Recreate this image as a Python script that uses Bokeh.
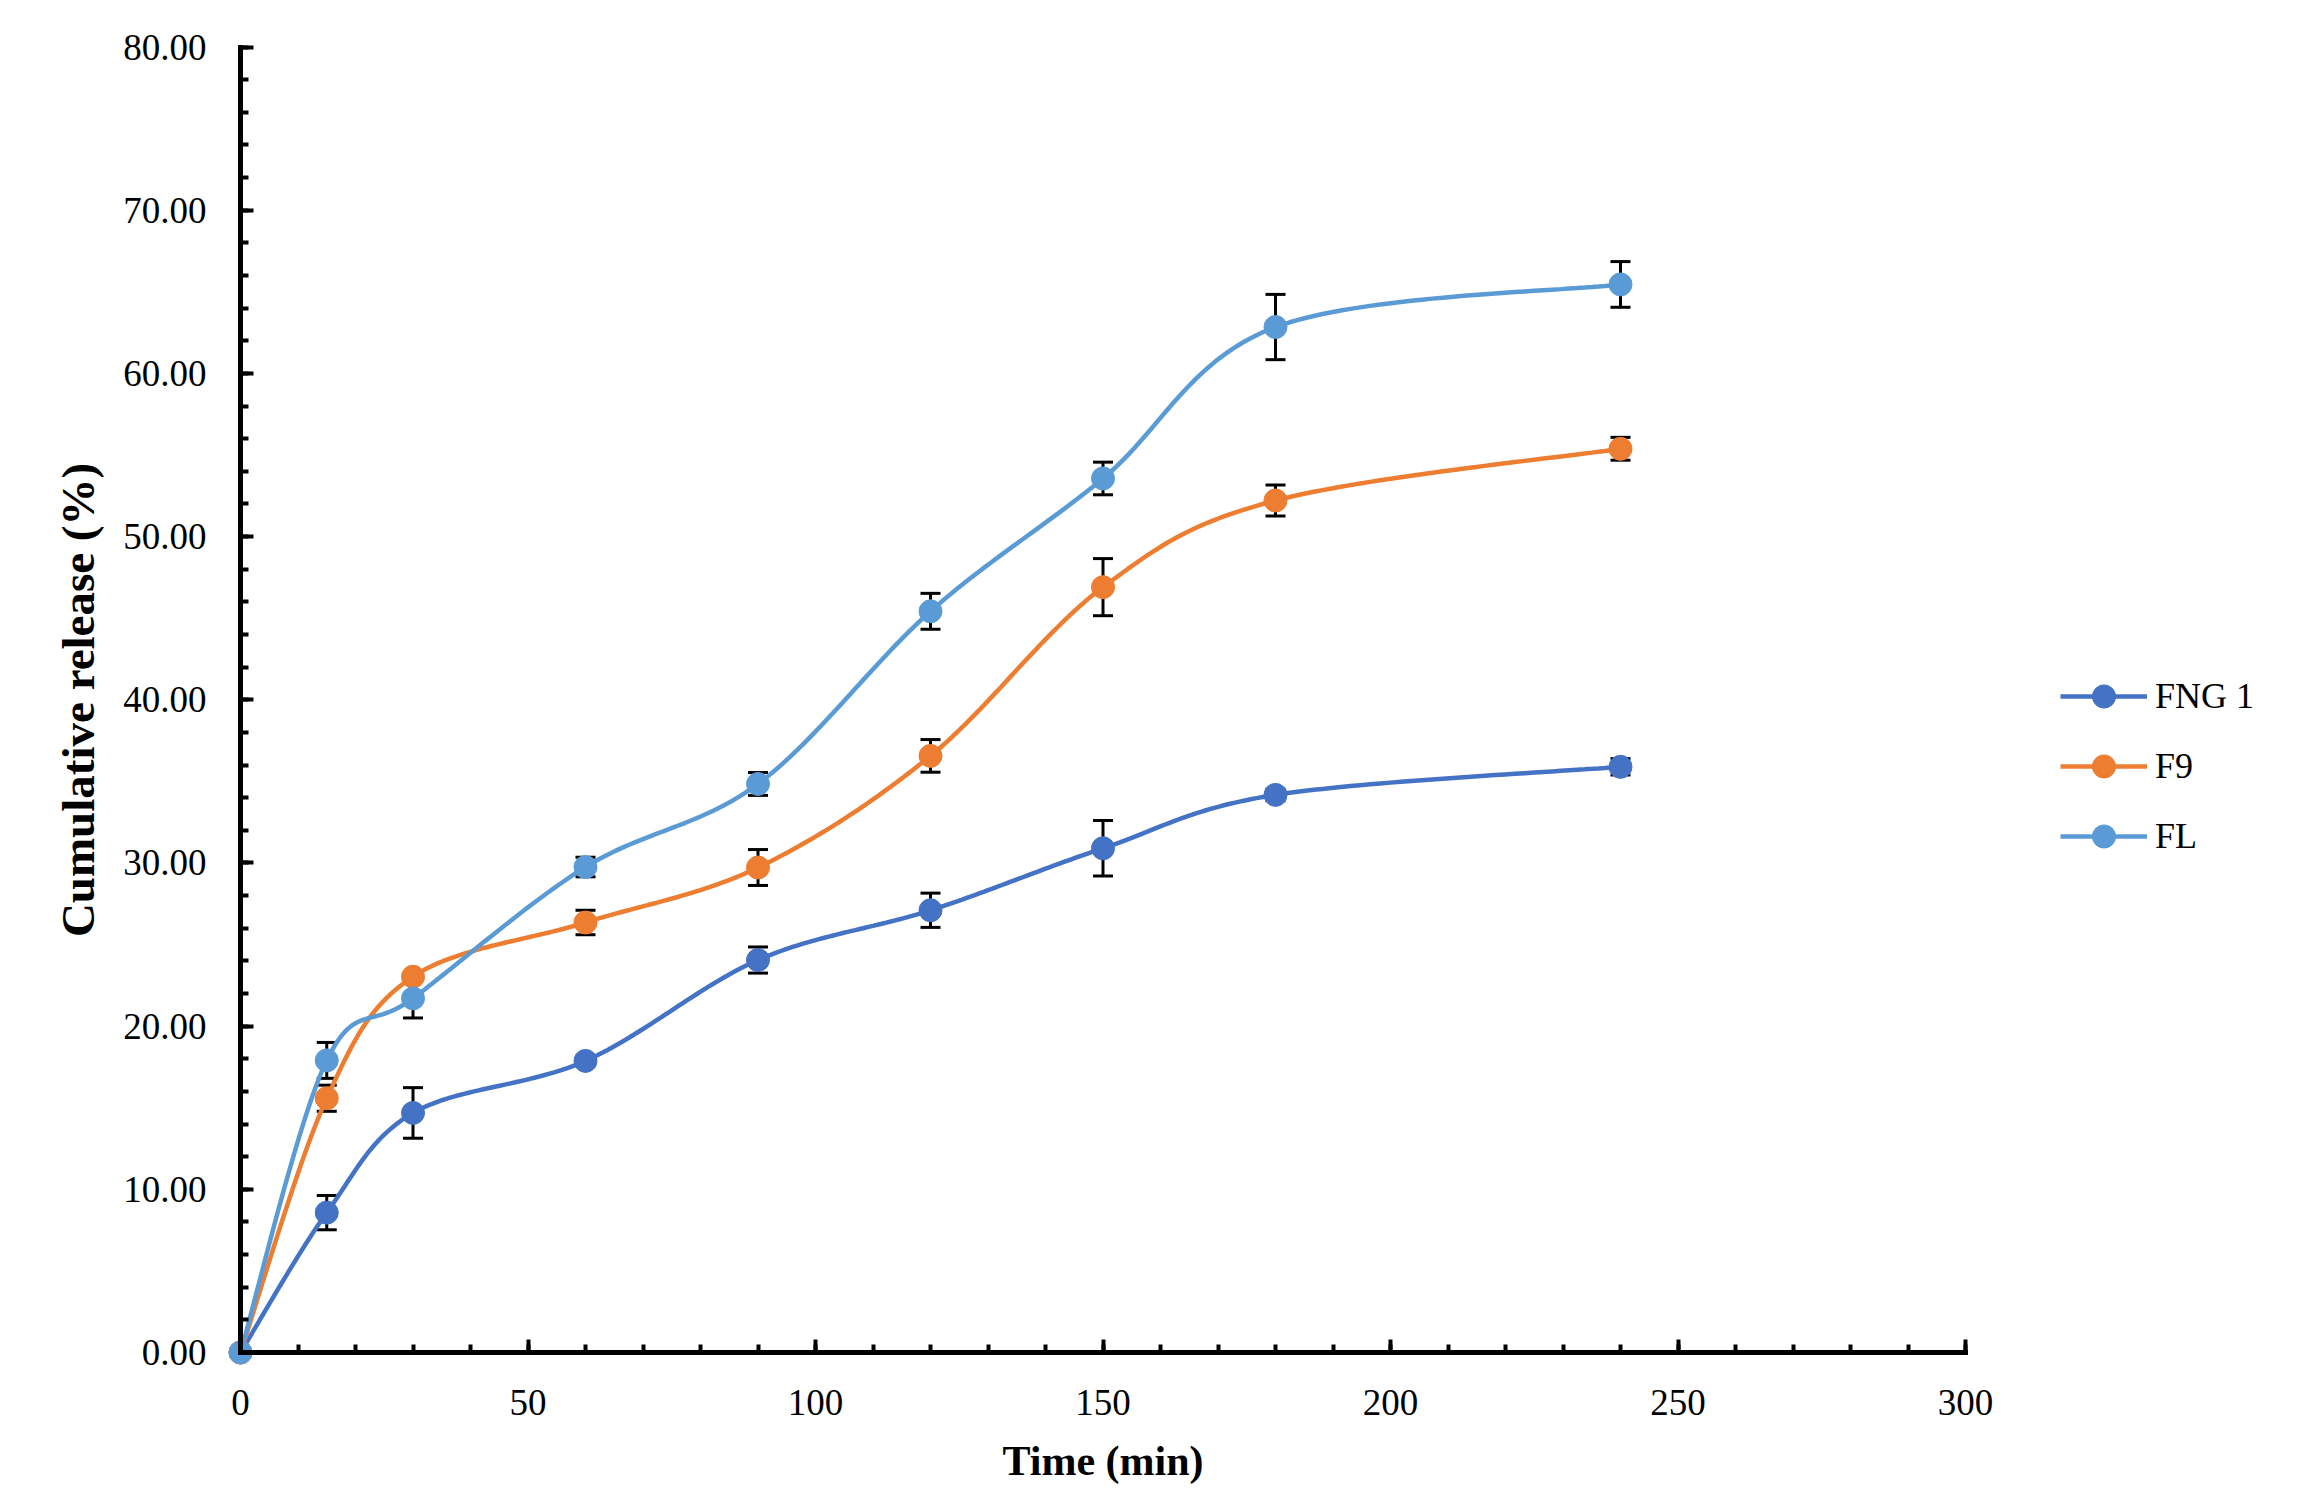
import numpy as np
from bokeh.plotting import figure
from bokeh.models import (Range1d, Whisker, TeeHead, ColumnDataSource, Legend, LegendItem,
                          PrintfTickFormatter, SingleIntervalTicker)
from bokeh.embed import file_html
from bokeh.resources import INLINE

# Release profile data (time in minutes, cumulative release in %)
time_min = [0, 15, 30, 60, 90, 120, 150, 180, 240]

fng1 = [0, 8.57, 14.68, 17.87, 24.05, 27.10, 30.90, 34.17, 35.89]
fng1_sd = [0, 1.05, 1.55, 0.30, 0.80, 1.05, 1.70, 0.35, 0.50]

f9 = [0, 15.58, 23.03, 26.35, 29.72, 36.56, 46.90, 52.21, 55.38]
f9_sd = [0, 0.80, 0.30, 0.75, 1.10, 1.00, 1.75, 0.95, 0.70]

fl = [0, 17.90, 21.70, 29.75, 34.84, 45.42, 53.56, 62.84, 65.45]
fl_sd = [0, 1.10, 1.20, 0.60, 0.70, 1.10, 1.00, 2.00, 1.40]

series_names = ["FNG 1", "F9", "FL"]
series_colors = ["#4472C4", "#ED7D31", "#5B9BD5"]

# Canvas geometry
W, H = 2306, 1498
X0_PX, X300_PX = 240, 1965      # where x = 0 and x = 300 sit on the canvas
Y0_PX, Y80_PX = 1352, 46.5      # where y = 0 and y = 80 sit on the canvas
FRAME_L, FRAME_R, FRAME_T, FRAME_B = 20, 2296, 10, 1488

px_x = (X300_PX - X0_PX) / 300.0
px_y = (Y0_PX - Y80_PX) / 80.0
x_range = Range1d((FRAME_L - X0_PX) / px_x, (FRAME_R - X0_PX) / px_x)
y_range = Range1d((Y0_PX - FRAME_B) / px_y, (Y0_PX - FRAME_T) / px_y)


def smooth_curve(xs, ys, n=40):
    """Catmull-Rom style cubic Bezier through the points (spreadsheet 'smoothed line')."""
    P = np.column_stack([xs, ys]).astype(float)
    out = [P[0]]
    t = np.linspace(0, 1, n)[1:, None]
    for i in range(len(P) - 1):
        p0 = P[i - 1] if i > 0 else P[i]
        p1, p2 = P[i], P[i + 1]
        p3 = P[i + 2] if i + 2 < len(P) else P[i + 1]
        c1 = p1 + (p2 - p0) / 6.0
        c2 = p2 - (p3 - p1) / 6.0
        seg = ((1 - t) ** 3) * p1 + 3 * ((1 - t) ** 2) * t * c1 + 3 * (1 - t) * (t ** 2) * c2 + (t ** 3) * p2
        out.extend(seg)
    arr = np.array(out)
    return arr[:, 0], arr[:, 1]


p = figure(width=W, height=H, x_range=x_range, y_range=y_range,
           output_backend="svg", toolbar_location=None,
           min_border_left=FRAME_L, min_border_right=W - FRAME_R,
           min_border_top=FRAME_T, min_border_bottom=H - FRAME_B)
p.title.visible = False
p.outline_line_color = None
p.grid.visible = False
p.background_fill_color = "white"
p.border_fill_color = "white"

SERIF = "Liberation Serif"

# Axes pinned at the origin
for ax in (p.xaxis[0], p.yaxis[0]):
    ax.fixed_location = 0
    ax.axis_line_width = 5
    ax.axis_line_color = "black"
    ax.axis_line_cap = "square"
    ax.major_tick_line_width = 4
    ax.minor_tick_line_width = 4
    ax.major_tick_line_color = "black"
    ax.minor_tick_line_color = "black"
    ax.major_tick_in = 13
    ax.major_tick_out = 0
    ax.minor_tick_in = 8
    ax.minor_tick_out = 0
    ax.major_label_text_font = SERIF
    ax.major_label_text_font_size = "37px"
    ax.major_label_text_color = "black"
    ax.axis_label_text_font = SERIF
    ax.axis_label_text_font_style = "bold"
    ax.axis_label_text_color = "black"

p.xaxis.bounds = (0, 300)
p.yaxis.bounds = (0, 80)
p.xaxis.ticker = SingleIntervalTicker(interval=50, num_minor_ticks=5)
p.yaxis.ticker = SingleIntervalTicker(interval=10, num_minor_ticks=5)
p.yaxis.formatter = PrintfTickFormatter(format="%.2f")

p.xaxis.axis_label = "Time (min)"
p.xaxis.axis_label_text_font_size = "42px"
p.xaxis.major_label_standoff = 37
p.xaxis.axis_label_standoff = 20

p.yaxis.axis_label = "Cumulative release (%)"
p.yaxis.axis_label_text_font_size = "47px"
p.yaxis.major_label_standoff = 34
p.yaxis.axis_label_standoff = 16

legend_items = []
for name, vals, sds, color in zip(series_names, [fng1, f9, fl], [fng1_sd, f9_sd, fl_sd], series_colors):
    lo = [v - s for v, s in zip(vals, sds) if s > 0]
    hi = [v + s for v, s in zip(vals, sds) if s > 0]
    bx = [t for t, s in zip(time_min, sds) if s > 0]
    src = ColumnDataSource(dict(x=bx, lower=lo, upper=hi))
    wh = Whisker(source=src, base="x", lower="lower", upper="upper", dimension="height",
                 line_color="black", line_width=3, level="underlay",
                 upper_head=TeeHead(size=20, line_width=3, line_color="black"),
                 lower_head=TeeHead(size=20, line_width=3, line_color="black"))
    p.add_layout(wh)

    sx, sy = smooth_curve(time_min, vals)
    lr = p.line(sx, sy, line_color=color, line_width=4.5)
    sr = p.scatter(time_min, vals, size=23, marker="circle", fill_color=color, line_color=color)
    legend_items.append(LegendItem(label=name, renderers=[lr, sr]))

legend = Legend(items=legend_items, location=(2040, 623),
                glyph_width=87, glyph_height=58, label_height=58, spacing=12,
                padding=0, margin=0, label_standoff=8,
                border_line_color=None, background_fill_alpha=0,
                label_text_font=SERIF, label_text_font_size="36px", label_text_color="black")
p.add_layout(legend)

open("out.html", "w").write(file_html(p, INLINE))
